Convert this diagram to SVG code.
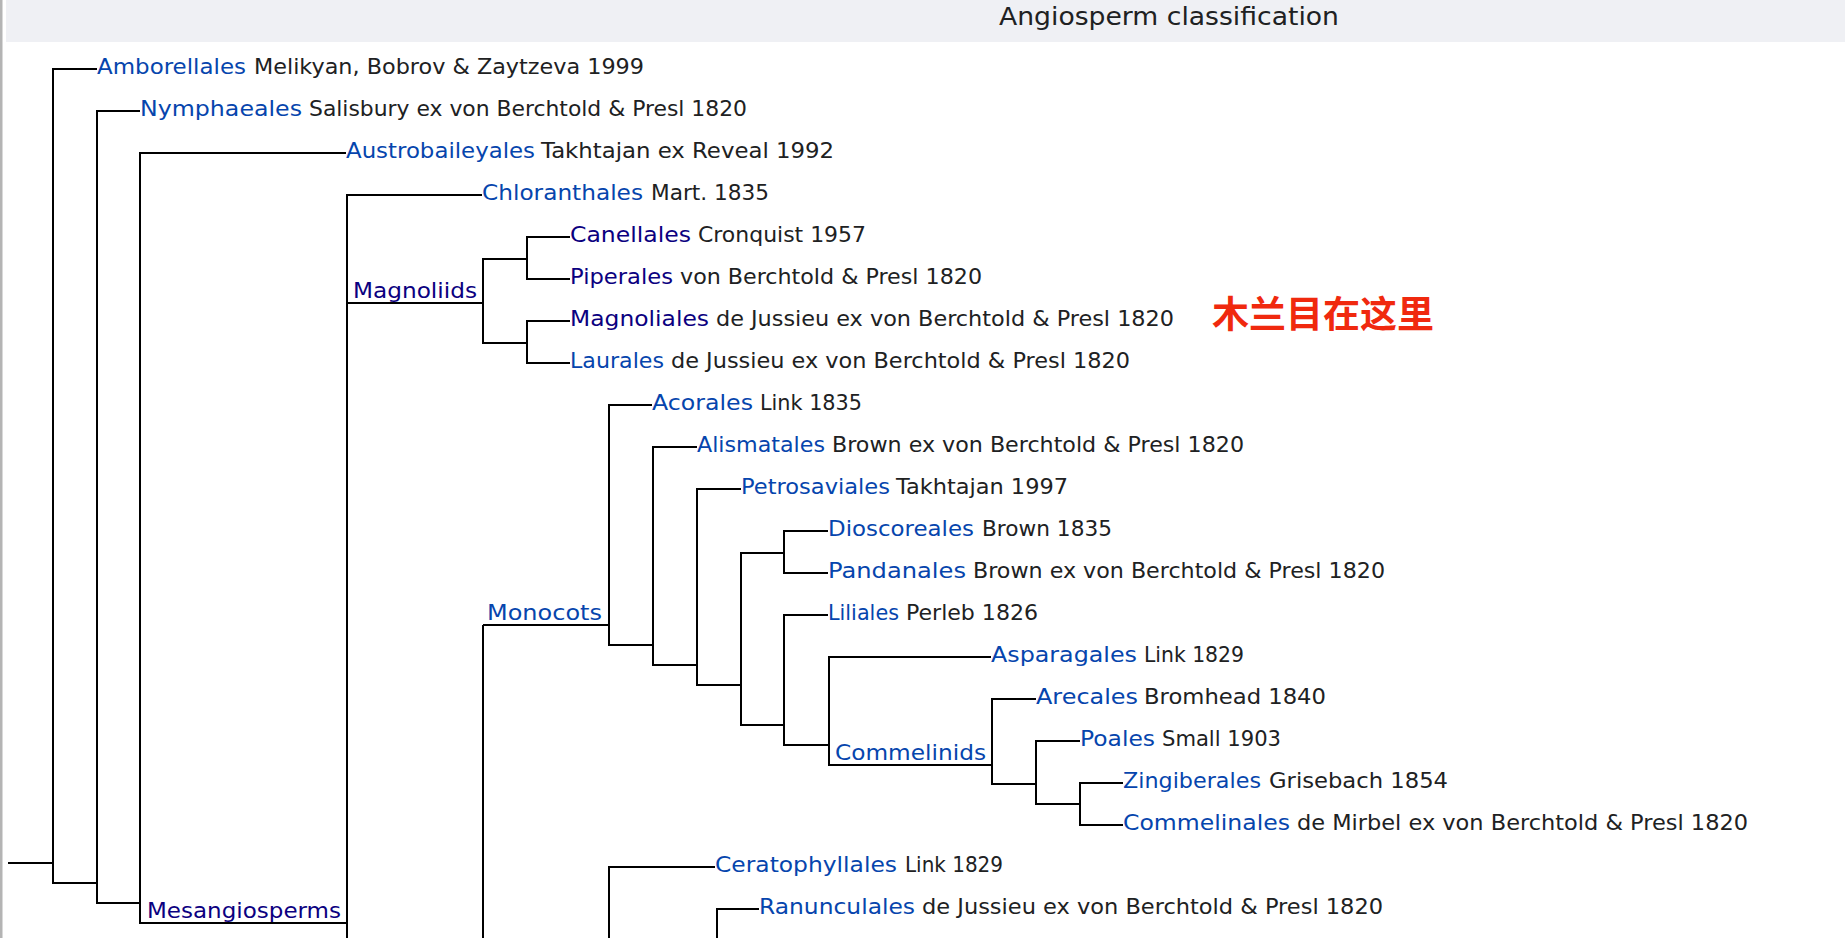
<svg xmlns="http://www.w3.org/2000/svg" width="1845" height="938" viewBox="0 0 1845 938">
<style>
text{font-family:"DejaVu Sans","Liberation Sans",sans-serif;font-size:22px}
.n{fill:#0645ad}
.v{fill:#0b0080}
.a{fill:#202122}
.ttl{font-size:25px;fill:#202122}
.cjk{font-family:"Noto Sans CJK SC",sans-serif;font-size:37px;font-weight:bold;fill:#f0290e}
#connectors path{stroke:#000;stroke-width:2;fill:none}
</style>
<rect x="0" y="0" width="1845" height="938" fill="#fff"/>
<rect x="0" y="0" width="2.5" height="938" fill="#b4b4b4"/>
<g id="header">
<rect x="6" y="0" width="1839" height="42" fill="#eff0f4"/>
<text class="ttl" x="999" y="25" textLength="340" lengthAdjust="spacingAndGlyphs">Angiosperm classification</text>
</g>
<g id="connectors">
<path d="M8 863H53"/>
<path d="M97 69H53V883H97"/>
<path d="M140 111H97V903H140"/>
<path d="M346 153H140V923H347"/>
<path d="M482 195H347V940"/>
<path d="M347 303H483"/>
<path d="M527 259H483V343H527"/>
<path d="M570 237H527V279H570"/>
<path d="M570 321H527V363H570"/>
<path d="M483 625H609"/>
<path d="M483 625V940"/>
<path d="M652 405H609V645H653"/>
<path d="M697 447H653V665H697"/>
<path d="M741 489H697V685H741"/>
<path d="M784 553H741V725H784"/>
<path d="M828 531H784V573H828"/>
<path d="M828 615H784V745H829"/>
<path d="M991 657H829V765H992"/>
<path d="M1036 699H992V784H1036"/>
<path d="M1080 741H1036V804H1080"/>
<path d="M1123 783H1080V825H1123"/>
<path d="M715 867H609V940"/>
<path d="M759 909H717V940"/>
</g>
<g id="amborellales"><text class="n" x="97" y="74" textLength="149" lengthAdjust="spacingAndGlyphs">Amborellales</text><text class="a" x="254" y="74" textLength="390" lengthAdjust="spacingAndGlyphs">Melikyan, Bobrov &amp; Zaytzeva 1999</text></g>
<g id="nymphaeales"><text class="n" x="140" y="116" textLength="162" lengthAdjust="spacingAndGlyphs">Nymphaeales</text><text class="a" x="309" y="116" textLength="438" lengthAdjust="spacingAndGlyphs">Salisbury ex von Berchtold &amp; Presl 1820</text></g>
<g id="austrobaileyales"><text class="n" x="346" y="158" textLength="189" lengthAdjust="spacingAndGlyphs">Austrobaileyales</text><text class="a" x="541" y="158" textLength="293" lengthAdjust="spacingAndGlyphs">Takhtajan ex Reveal 1992</text></g>
<g id="mesangiosperms"><text class="v" x="147" y="918" textLength="194" lengthAdjust="spacingAndGlyphs">Mesangiosperms</text></g>
<g id="chloranthales"><text class="n" x="482" y="200" textLength="161" lengthAdjust="spacingAndGlyphs">Chloranthales</text><text class="a" x="651" y="200" textLength="118" lengthAdjust="spacingAndGlyphs">Mart. 1835</text></g>
<g id="magnoliids"><text class="v" x="353" y="298" textLength="124" lengthAdjust="spacingAndGlyphs">Magnoliids</text></g>
<g id="canellales"><text class="v" x="570" y="242" textLength="121" lengthAdjust="spacingAndGlyphs">Canellales</text><text class="a" x="698" y="242" textLength="168" lengthAdjust="spacingAndGlyphs">Cronquist 1957</text></g>
<g id="piperales"><text class="v" x="570" y="284" textLength="103" lengthAdjust="spacingAndGlyphs">Piperales</text><text class="a" x="680" y="284" textLength="302" lengthAdjust="spacingAndGlyphs">von Berchtold &amp; Presl 1820</text></g>
<g id="magnoliales"><text class="v" x="570" y="326" textLength="139" lengthAdjust="spacingAndGlyphs">Magnoliales</text><text class="a" x="716" y="326" textLength="458" lengthAdjust="spacingAndGlyphs">de Jussieu ex von Berchtold &amp; Presl 1820</text></g>
<g id="laurales"><text class="n" x="570" y="368" textLength="94" lengthAdjust="spacingAndGlyphs">Laurales</text><text class="a" x="671" y="368" textLength="459" lengthAdjust="spacingAndGlyphs">de Jussieu ex von Berchtold &amp; Presl 1820</text></g>
<g id="monocots"><text class="n" x="487" y="620" textLength="115" lengthAdjust="spacingAndGlyphs">Monocots</text></g>
<g id="acorales"><text class="n" x="652" y="410" textLength="101" lengthAdjust="spacingAndGlyphs">Acorales</text><text class="a" x="760" y="410" textLength="102" lengthAdjust="spacingAndGlyphs">Link 1835</text></g>
<g id="alismatales"><text class="n" x="697" y="452" textLength="128" lengthAdjust="spacingAndGlyphs">Alismatales</text><text class="a" x="832" y="452" textLength="412" lengthAdjust="spacingAndGlyphs">Brown ex von Berchtold &amp; Presl 1820</text></g>
<g id="petrosaviales"><text class="n" x="741" y="494" textLength="149" lengthAdjust="spacingAndGlyphs">Petrosaviales</text><text class="a" x="896" y="494" textLength="172" lengthAdjust="spacingAndGlyphs">Takhtajan 1997</text></g>
<g id="dioscoreales"><text class="n" x="828" y="536" textLength="146" lengthAdjust="spacingAndGlyphs">Dioscoreales</text><text class="a" x="982" y="536" textLength="130" lengthAdjust="spacingAndGlyphs">Brown 1835</text></g>
<g id="pandanales"><text class="n" x="828" y="578" textLength="138" lengthAdjust="spacingAndGlyphs">Pandanales</text><text class="a" x="973" y="578" textLength="412" lengthAdjust="spacingAndGlyphs">Brown ex von Berchtold &amp; Presl 1820</text></g>
<g id="liliales"><text class="n" x="828" y="620" textLength="71" lengthAdjust="spacingAndGlyphs">Liliales</text><text class="a" x="906" y="620" textLength="132" lengthAdjust="spacingAndGlyphs">Perleb 1826</text></g>
<g id="asparagales"><text class="n" x="991" y="662" textLength="146" lengthAdjust="spacingAndGlyphs">Asparagales</text><text class="a" x="1144" y="662" textLength="100" lengthAdjust="spacingAndGlyphs">Link 1829</text></g>
<g id="commelinids"><text class="n" x="835" y="760" textLength="151" lengthAdjust="spacingAndGlyphs">Commelinids</text></g>
<g id="arecales"><text class="n" x="1036" y="704" textLength="102" lengthAdjust="spacingAndGlyphs">Arecales</text><text class="a" x="1144" y="704" textLength="182" lengthAdjust="spacingAndGlyphs">Bromhead 1840</text></g>
<g id="poales"><text class="n" x="1080" y="746" textLength="75" lengthAdjust="spacingAndGlyphs">Poales</text><text class="a" x="1162" y="746" textLength="119" lengthAdjust="spacingAndGlyphs">Small 1903</text></g>
<g id="zingiberales"><text class="n" x="1123" y="788" textLength="138" lengthAdjust="spacingAndGlyphs">Zingiberales</text><text class="a" x="1269" y="788" textLength="179" lengthAdjust="spacingAndGlyphs">Grisebach 1854</text></g>
<g id="commelinales"><text class="n" x="1123" y="830" textLength="167" lengthAdjust="spacingAndGlyphs">Commelinales</text><text class="a" x="1297" y="830" textLength="451" lengthAdjust="spacingAndGlyphs">de Mirbel ex von Berchtold &amp; Presl 1820</text></g>
<g id="ceratophyllales"><text class="n" x="715" y="872" textLength="182" lengthAdjust="spacingAndGlyphs">Ceratophyllales</text><text class="a" x="905" y="872" textLength="98" lengthAdjust="spacingAndGlyphs">Link 1829</text></g>
<g id="ranunculales"><text class="n" x="759" y="914" textLength="156" lengthAdjust="spacingAndGlyphs">Ranunculales</text><text class="a" x="922" y="914" textLength="461" lengthAdjust="spacingAndGlyphs">de Jussieu ex von Berchtold &amp; Presl 1820</text></g>
<g id="annotation"><text class="cjk" x="1212" y="328">木兰目在这里</text></g>
</svg>
